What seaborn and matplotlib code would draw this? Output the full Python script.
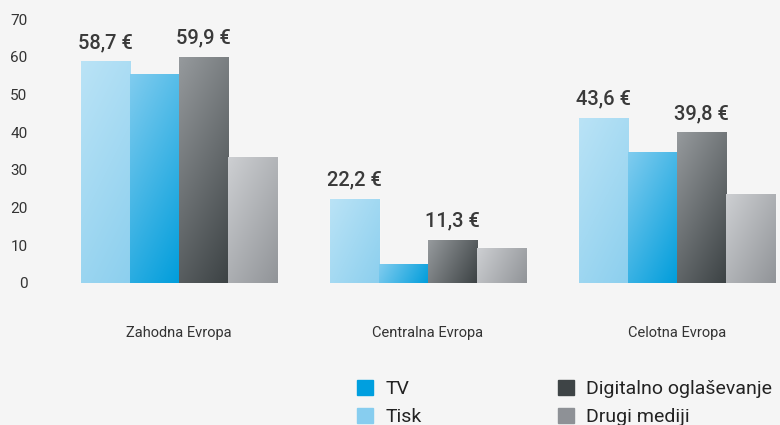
import numpy as np
import pandas as pd
import matplotlib
matplotlib.use("Agg")
import matplotlib.pyplot as plt
import matplotlib.colors as mcolors
from matplotlib.patches import Patch
import seaborn as sns

# ---- data ----
regions = ["Zahodna Evropa", "Centralna Evropa", "Celotna Evropa"]
series = ["Tisk", "TV", "Digitalno oglaševanje", "Drugi mediji"]
tisk = [58.7, 22.2, 43.6]
tv = [55.2, 4.9, 34.6]
digital = [59.9, 11.3, 39.8]
drugi = [33.3, 9.2, 23.6]
labelled = ["Tisk", "Digitalno oglaševanje"]
y_ticks = [0, 10, 20, 30, 40, 50, 60, 70]

# ---- styles ----
base_colors = {"Tisk": "#87cdef", "TV": "#009fdf",
               "Digitalno oglaševanje": "#3e4446", "Drugi mediji": "#8e9196"}
grad_colors = {"Tisk": ("#bae3f6", "#8ccfee"),
               "TV": ("#80ccef", "#009ddb"),
               "Digitalno oglaševanje": ("#969a9d", "#3c4244"),
               "Drugi mediji": ("#cdcfd2", "#919498")}
BG = "#f5f5f5"
TXT = "#333333"

df = pd.DataFrame({
    "region": regions * 4,
    "series": sum([[s] * len(regions) for s in series], []),
    "value": tisk + tv + digital + drugi,
})

sns.set_style("white")
plt.rcParams["font.family"] = ["Roboto", "DejaVu Sans"]

W, H = 780, 425
fig = plt.figure(figsize=(W / 100, H / 100), dpi=100, facecolor=BG)
ax_left, ax_right, ax_top, ax_bottom = 40, 780, 5, 283
ax = fig.add_axes([ax_left / W, 1 - ax_bottom / H,
                   (ax_right - ax_left) / W, (ax_bottom - ax_top) / H])
ax.set_facecolor(BG)

sns.barplot(data=df, x="region", y="value", hue="series", hue_order=series,
            order=regions, palette=base_colors, width=0.79, legend=False,
            saturation=1, ax=ax, zorder=2)

xlim = ((ax_left - 179) / 249, (ax_right - 179) / 249)
ylim = (0, (ax_bottom - ax_top) / 3.771)
ax.set_xlim(*xlim)
ax.set_ylim(*ylim)
px_x = (ax_right - ax_left) / (xlim[1] - xlim[0])
px_y = (ax_bottom - ax_top) / (ylim[1] - ylim[0])

# map patch colours back to series
rgb_to_series = {mcolors.to_hex(c): s for s, c in base_colors.items()}
for p in list(ax.patches):
    s = rgb_to_series.get(mcolors.to_hex(p.get_facecolor()))
    if s is None:
        continue
    x0, y0 = p.get_x(), p.get_y()
    w, h = p.get_width(), p.get_height()
    if h <= 0:
        continue
    wp, hp = w * px_x, h * px_y
    nx, ny = 60, max(4, int(hp))
    u = np.linspace(0, wp, nx)[None, :]
    v = np.linspace(0, hp, ny)[:, None]
    t = (u + 0.5 * v) / (wp + 0.5 * hp)
    c1 = np.array(mcolors.to_rgb(grad_colors[s][0]))
    c2 = np.array(mcolors.to_rgb(grad_colors[s][1]))
    img = c1[None, None, :] * (1 - t[..., None]) + c2[None, None, :] * t[..., None]
    ax.imshow(img, extent=(x0, x0 + w, y0, y0 + h), origin="upper",
              aspect="auto", interpolation="bilinear", zorder=3)
    if s in labelled:
        txt = f"{h:.1f}".replace(".", ",") + " €"
        ax.annotate(txt, (x0 + w / 2, y0 + h), xytext=(0, 7),
                    textcoords="offset points", ha="center", va="bottom",
                    fontsize=14.5, fontweight="medium", color="#3a3a3a", zorder=4)

ax.set_xlim(*xlim)
ax.set_ylim(*ylim)
ax.set_yticks(y_ticks)
ax.set_yticklabels([str(t) for t in y_ticks])
ax.set_xlabel("")
ax.set_ylabel("")
for sp in ax.spines.values():
    sp.set_visible(False)
ax.tick_params(axis="y", length=0, pad=9, labelsize=11, labelcolor=TXT)
ax.tick_params(axis="x", length=0, pad=31, labelsize=10.5, labelcolor=TXT)
ax.grid(False)

# legend: two columns placed separately
common = dict(loc="upper left", frameon=False, fontsize=14, handlelength=0.8,
              handleheight=0.8, handletextpad=0.65, labelspacing=0.5,
              borderpad=0, borderaxespad=0, labelcolor="#222222")
fig.legend(handles=[Patch(color=base_colors["TV"], label="TV"),
                    Patch(color=base_colors["Tisk"], label="Tisk")],
           bbox_to_anchor=(357 / W, 1 - 380 / H), **common)
fig.legend(handles=[Patch(color=base_colors["Digitalno oglaševanje"], label="Digitalno oglaševanje"),
                    Patch(color=base_colors["Drugi mediji"], label="Drugi mediji")],
           bbox_to_anchor=(558 / W, 1 - 380 / H), **common)

fig.savefig("out.png", dpi=100, facecolor=BG)
